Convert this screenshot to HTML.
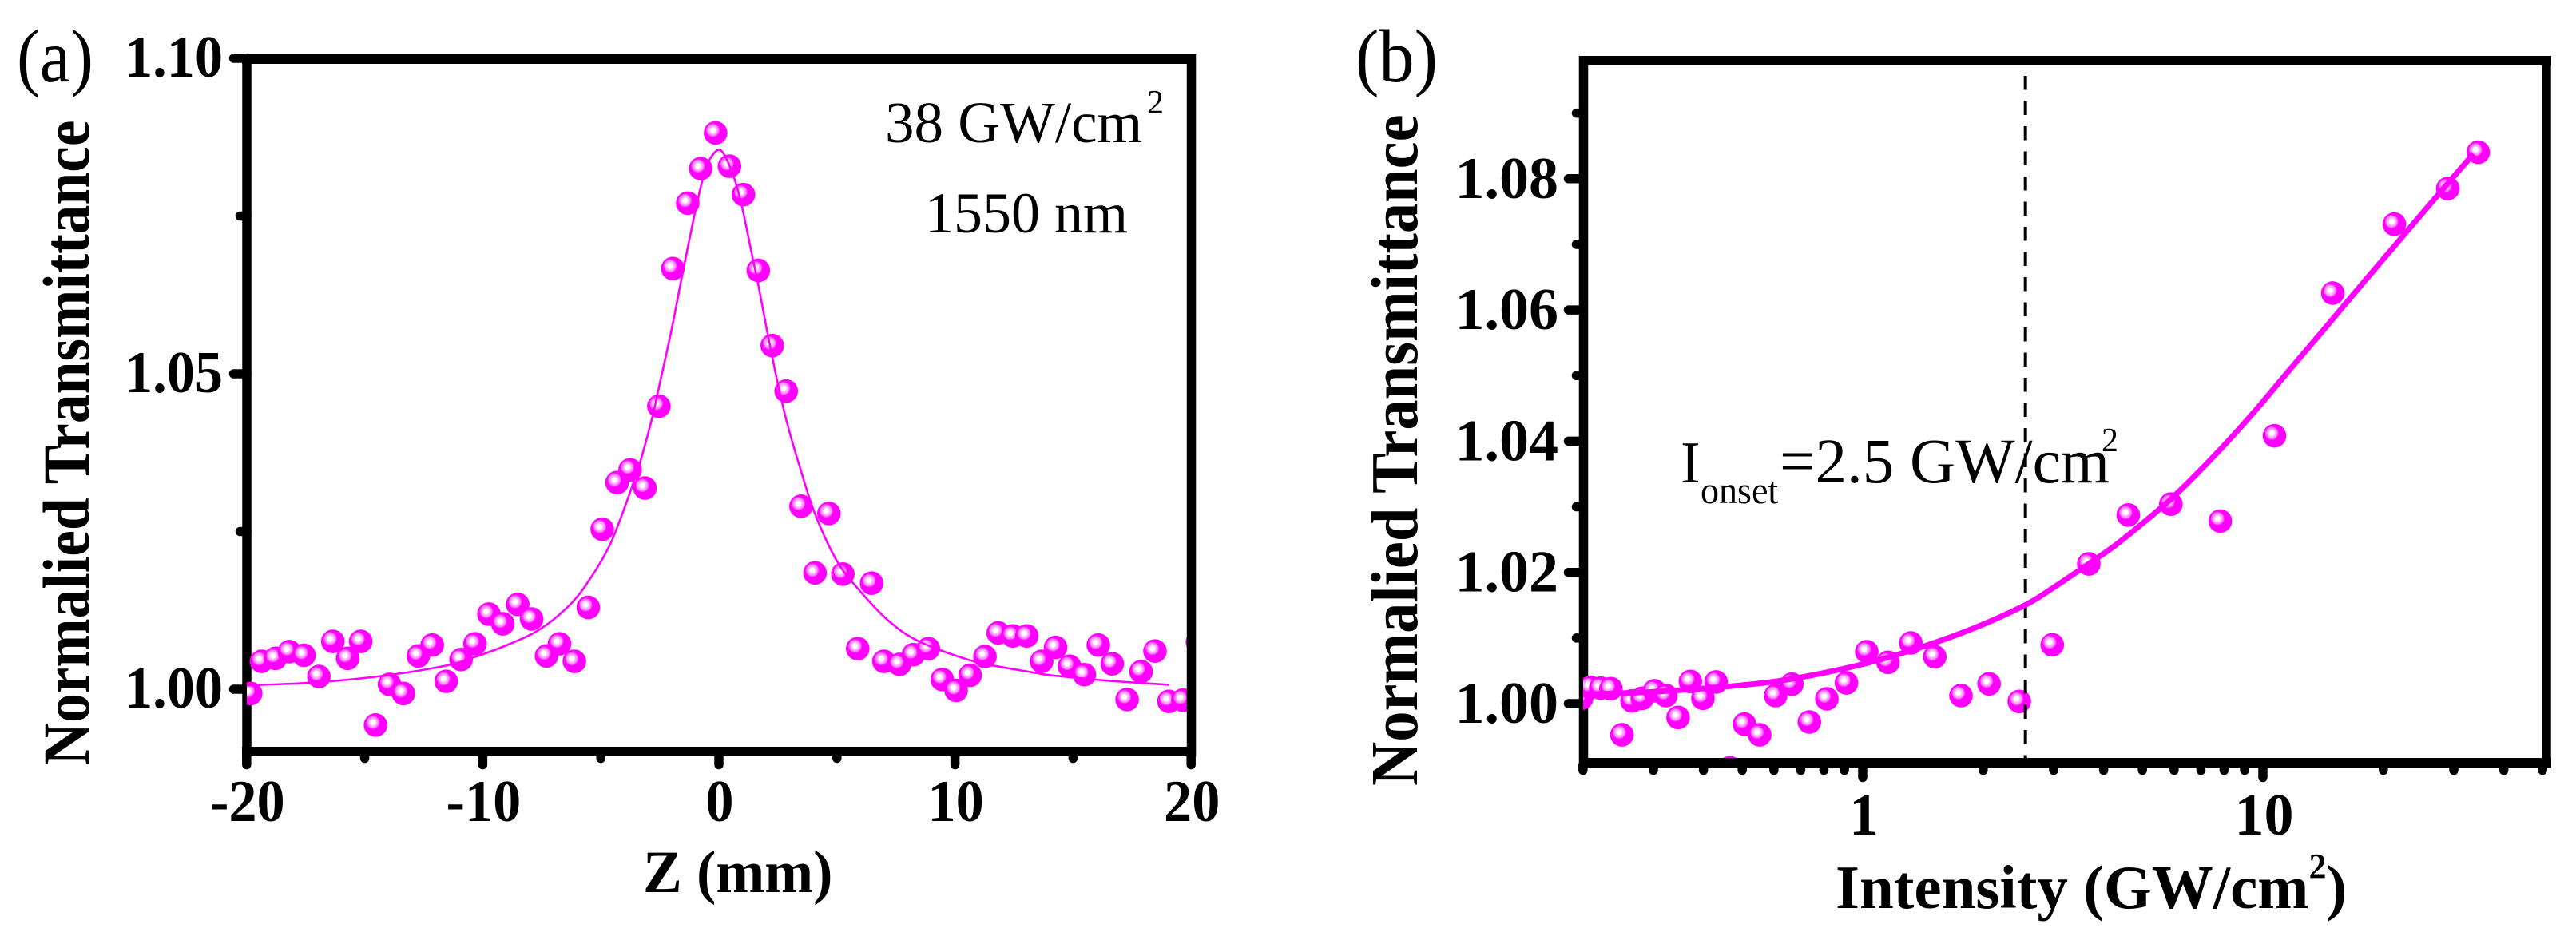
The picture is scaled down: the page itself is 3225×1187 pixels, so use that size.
<!DOCTYPE html>
<html lang="en">
<head>
<meta charset="utf-8">
<title>Normalized transmittance charts</title>
<style>
html,body{margin:0;padding:0;background:#fff}
svg{display:block}
text{font-family:"Liberation Serif",serif;fill:#000}
.bold{font-weight:bold}
</style>
</head>
<body>
<svg id="figure" xmlns="http://www.w3.org/2000/svg" width="3225" height="1187" viewBox="0 0 3225 1187">
  <defs>
    <radialGradient id="marker-shine">
      <stop offset="0" stop-color="#ffffff"/>
      <stop offset="0.35" stop-color="#ffffff"/>
      <stop offset="0.45" stop-color="#ffc4ff"/>
      <stop offset="0.72" stop-color="#ff99ff"/>
      <stop offset="1" stop-color="#ff22ff"/>
    </radialGradient>
    <clipPath id="clip-a"><rect x="309" y="74" width="1182" height="867"/></clipPath>
    <clipPath id="clip-b"><rect x="1982" y="76" width="1206" height="880"/></clipPath>
  </defs>
  <rect x="0" y="0" width="3225" height="1187" fill="#fff"/>
  <g id="panel-a"></g>
  <g id="panel-b"></g>

  <text transform="translate(21,102) scale(.92,1)" font-size="94">(a)</text>
  <text transform="translate(1697,102) scale(.94,1)" font-size="94">(b)</text>

  <text class="bold" transform="translate(111,958) rotate(-90) scale(1,1.12)" font-size="73.5">Normalied Transmittance</text>
  <text class="bold" transform="translate(805,1117) scale(.975,1)" font-size="75">Z (mm)</text>

  <text x="1108" y="178" font-size="73">38 GW/cm</text>
  <text x="1436" y="142" font-size="42">2</text>
  <text x="1158" y="291" font-size="72">1550 nm</text>

  <text class="bold" transform="translate(1774,984) rotate(-90) scale(1,1.1)" font-size="76.5">Normalied Transmittance</text>
  <text class="bold" x="2298" y="1137" font-size="77">Intensity (GW/cm<tspan font-size="44" dy="-38">2</tspan><tspan dy="38">)</tspan></text>

  <text x="2104" y="604" font-size="74">I</text>
  <text transform="translate(2129,630) scale(.96,1)" font-size="48">onset</text>
  <text x="2228" y="604" font-size="79">=2.5 GW/cm</text>
  <text x="2631" y="565" font-size="42">2</text>
</svg>
<script>
// Panel (a) data
const aZ = [-19.83,-19.37,-18.78,-18.19,-17.57,-16.94,-16.35,-15.72,-15.17,-14.54,-13.95,-13.36,-12.73,-12.14,-11.55,-10.92,-10.33,-9.74,-9.15,-8.52,-7.93,-7.30,-6.75,-6.12,-5.53,-4.94,-4.31,-3.76,-3.13,-2.54,-1.95,-1.32,-0.77,-0.14,0.45,1.04,1.67,2.26,2.85,3.48,4.07,4.66,5.25,5.88,6.47,6.99,7.65,8.24,8.87,9.46,10.05,10.64,11.27,11.83,12.45,13.04,13.67,14.26,14.85,15.48,16.07,16.66,17.29,17.88,18.47,19.06,19.65,20.27];
const aT = [0.99933,1.00442,1.00490,1.00596,1.00538,1.00202,1.00759,1.00490,1.00759,0.99433,1.00077,0.99933,1.00528,1.00701,1.00125,1.00471,1.00720,1.01191,1.01037,1.01345,1.01114,1.00528,1.00720,1.00442,1.01297,1.02536,1.03276,1.03477,1.03189,1.04486,1.06667,1.07704,1.08252,1.08818,1.08290,1.07839,1.06638,1.05447,1.04726,1.02901,1.01844,1.02786,1.01825,1.00644,1.01681,1.00442,1.00394,1.00548,1.00644,1.00154,0.99981,1.00221,1.00519,1.00893,1.00845,1.00845,1.00442,1.00663,1.00365,1.00231,1.00701,1.00403,0.99837,1.00279,1.00605,0.99808,0.99827,1.00750];
const aFitZ = [-20,-17.01,-14.07,-11.48,-10.43,-9.04,-7.58,-6.28,-5.42,-4.64,-4.13,-3.69,-3.35,-2.84,-2.59,-2.14,-1.917,-1.634,-1.04,-0.70,-0.4,0,0.3,0.653,0.99,1.41,1.67,2.03,2.48,2.875,3.38,4.07,5.02,5.97,7.17,8.47,10.62,11.84,13.4,14.1,16.34,19.06];
const aFitT = [1.0006,1.0011,1.0022,1.0038,1.0050,1.0069,1.0095,1.0135,1.0177,1.0227,1.0274,1.0320,1.0358,1.0428,1.0470,1.0546,1.0586,1.0641,1.0751,1.0806,1.0839,1.0855,1.0842,1.0810,1.0763,1.0687,1.0641,1.0570,1.0487,1.0424,1.0358,1.0278,1.0202,1.0156,1.0109,1.0076,1.0046,1.0036,1.0026,1.0022,1.0014,1.0007];
const aXMajor = [-20,-10,0,10,20];
const aXMinor = [-15,-5,5,15];
const aXLabels = ['-20','-10','0','10','20'];
const aYMajor = [1.00,1.05,1.10];
const aYMinor = [1.025,1.075];
const aYLabels = ['1.00','1.05','1.10'];

// Panel (b) data
const bI = [0.1984,0.2088,0.2215,0.2348,0.2502,0.2653,0.2813,0.3018,0.3224,0.3457,0.3710,0.3988,0.4300,0.4656,0.5065,0.5528,0.6058,0.6652,0.7358,0.8135,0.9106,1.0237,1.157,1.319,1.514,1.760,2.069,2.462,2.976,3.672,4.608,5.889,7.824,10.69,14.95,21.31,28.98,34.52];
const bT = [1.00081,1.00247,1.00235,1.00228,0.99525,1.00040,1.00081,1.00195,1.00122,0.99789,1.00337,1.00081,1.00329,0.99022,0.99687,0.99525,1.00122,1.00296,0.99720,1.00073,1.00316,1.00791,1.00629,1.00925,1.00714,1.00122,1.00301,1.00033,1.00897,1.02129,1.02875,1.03041,1.02783,1.04082,1.06257,1.07307,1.07851,1.08404];
const bFitI = [0.2,0.3,0.465,0.6157,0.802,1.044,1.433,1.932,2.56,3.0,3.67,4.27,5.08,5.92,6.73,8.21,9.71,11.67,14.47,17.9,22.2,27.7,33.6];
const bFitT = [1.0014,1.0018,1.00264,1.00345,1.0047,1.0063,1.0088,1.0117,1.0151,1.0177,1.0213,1.0241,1.0278,1.0313,1.0346,1.0401,1.0451,1.0509,1.0576,1.0643,1.0710,1.0779,1.0838];
const bXMajor = [1,10];
const bXMinor = [0.2,0.3,0.4,0.5,0.6,0.7,0.8,0.9,2,3,4,5,6,7,8,9,20,30,40,50];
const bXLabels = ['1','10'];
const bYMajor = [1.00,1.02,1.04,1.06,1.08];
const bYMinor = [1.01,1.03,1.05,1.07,1.09];
const bYLabels = ['1.00','1.02','1.04','1.06','1.08'];
const onsetIntensity = [2.55];

// Axis functions
const xA = v => 900 + v * 29.56;
const yA = v => 863 - (v - 1) * 7900;
const xB = v => 2332 + 501 * Math.log10(v);
const yB = v => 881 - (v - 1) * 8215;

const NS = 'http://www.w3.org/2000/svg';
function make(parent, tag, attrs) {
  const el = document.createElementNS(NS, tag);
  for (const k in attrs) el.setAttribute(k, attrs[k]);
  parent.appendChild(el);
  return el;
}
function smoothPath(pts) {
  let d = 'M' + pts[0][0].toFixed(2) + ' ' + pts[0][1].toFixed(2);
  for (let i = 0; i < pts.length - 1; i++) {
    const p0 = pts[Math.max(i - 1, 0)], p1 = pts[i], p2 = pts[i + 1], p3 = pts[Math.min(i + 2, pts.length - 1)];
    const c1x = p1[0] + (p2[0] - p0[0]) / 6, c1y = p1[1] + (p2[1] - p0[1]) / 6;
    const c2x = p2[0] - (p3[0] - p1[0]) / 6, c2y = p2[1] - (p3[1] - p1[1]) / 6;
    d += 'C' + c1x.toFixed(2) + ' ' + c1y.toFixed(2) + ' ' + c2x.toFixed(2) + ' ' + c2y.toFixed(2) + ' ' + p2[0].toFixed(2) + ' ' + p2[1].toFixed(2);
  }
  return d;
}
function drawMarkers(parent, clipId, xs, ys, xf, yf) {
  const g = make(parent, 'g', {'clip-path': 'url(#' + clipId + ')'});
  
  
  xs.forEach((v, i) => {
    const px = xf(v), py = yf(ys[i]);
    const m = make(g, 'circle', {cx: px, cy: py, r: 14.8, fill: '#ff00ff'});
    
    
    const h = make(g, 'circle', {cx: px - 3.3, cy: py - 3.3, r: 8.5, fill: 'url(#marker-shine)'});
    
    
  });
}
function drawCurve(parent, xs, ys, xf, yf, width) {
  const pts = xs.map((v, i) => [xf(v), yf(ys[i])]);
  const p = make(parent, 'path', {d: smoothPath(pts), fill: 'none', stroke: '#ff00ff', 'stroke-width': width, 'stroke-linejoin': 'round'});
  
  
}
function tick(parent, x1, y1, x2, y2, width) {
  const t = make(parent, 'line', {x1: x1, y1: y1, x2: x2, y2: y2, stroke: '#000', 'stroke-width': width, 'stroke-linecap': 'round'});
  
  
}
function label(parent, str, x, y, anchor, sx) {
  const t = make(parent, 'text', {transform: 'translate(' + x + ',' + y + ') scale(' + sx + ',1)', 'text-anchor': anchor, 'font-size': 74, 'class': 'bold'});
  t.textContent = str;
  
  
}
function axisLine(parent, name, x1, y1, x2, y2, width) {
  const l = make(parent, 'line', {x1: x1, y1: y1, x2: x2, y2: y2, stroke: '#000', 'stroke-width': width});
  
  
}

// Panel (a)
const pa = document.getElementById('panel-a');
aYMajor.forEach(v => tick(pa, 309, yA(v), 292.5, yA(v), 11.5));
aYMinor.forEach(v => tick(pa, 309, yA(v), 300.5, yA(v), 11.5));
aXMajor.forEach(v => tick(pa, xA(v), 945, xA(v), 957.5, 11.5));
aXMinor.forEach(v => tick(pa, xA(v), 945, xA(v), 949.5, 11.5));
axisLine(pa, 'panel-a-left-axis', 309, 68, 309, 947, 11.5);
drawMarkers(pa, 'clip-a', aZ, aT, xA, yA);
drawCurve(pa, aFitZ, aFitT, xA, yA, 2.6);
axisLine(pa, 'panel-a-top-axis', 303, 74, 1497, 74, 12);
axisLine(pa, 'panel-a-bottom-axis', 303, 941, 1497, 941, 12);
axisLine(pa, 'panel-a-right-axis', 1491.5, 68, 1491.5, 947, 11.5);
aYLabels.forEach((s, i) => label(pa, s, 279, yA(aYMajor[i]) + 23, 'end', 0.95));
aXLabels.forEach((s, i) => label(pa, s, xA(aXMajor[i]) + 1, 1028, 'middle', 0.95));

// Panel (b)
const pb = document.getElementById('panel-b');
bYMajor.forEach(v => tick(pb, 1982, yB(v), 1963.5, yB(v), 11.5));
bYMinor.forEach(v => tick(pb, 1982, yB(v), 1973.5, yB(v), 11.5));
bXMajor.forEach(v => tick(pb, xB(v), 958, xB(v), 973.5, 11.5));
bXMinor.forEach(v => tick(pb, xB(v), 958, xB(v), 964.5, 11.5));
axisLine(pb, 'panel-b-left-axis', 1982.5, 70, 1982.5, 961, 11.5);
drawMarkers(pb, 'clip-b', bI, bT, xB, yB);
onsetIntensity.forEach(v => {
  const d = make(pb, 'line', {x1: xB(v), y1: 95, x2: xB(v), y2: 950, stroke: '#000', 'stroke-width': 4, 'stroke-dasharray': '17.5 14'});
  
  
});
drawCurve(pb, bFitI, bFitT, xB, yB, 7);
axisLine(pb, 'panel-b-top-axis', 1977, 76, 3194, 76, 12);
axisLine(pb, 'panel-b-bottom-axis', 1977, 955, 3194, 955, 12);
axisLine(pb, 'panel-b-right-axis', 3188, 70, 3188, 961, 11.5);
bYLabels.forEach((s, i) => label(pb, s, 1951, yB(bYMajor[i]) + 24, 'end', 1));
bXLabels.forEach((s, i) => label(pb, s, xB(bXMajor[i]) + 1.5, 1045, 'middle', 1));
</script>
</body>
</html>
